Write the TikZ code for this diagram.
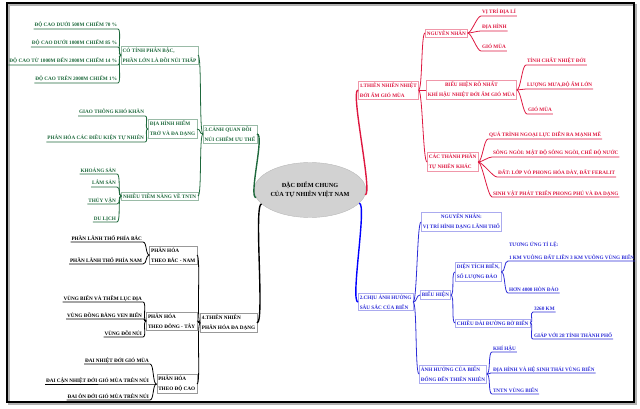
\documentclass[tikz,border=0pt]{standalone}
\usepackage{fontspec}
\setmainfont{Liberation Serif}
\usepackage{tikz}
\usetikzlibrary{shapes.geometric,positioning}
\definecolor{greenb}{RGB}{30,105,60}
\definecolor{redb}{RGB}{222,24,64}
\definecolor{blueb}{RGB}{45,45,215}
\tikzstyle{topic} = [ellipse, draw=gray!55, fill=gray!35, align=center, minimum width=93pt, minimum height=55pt, inner sep=0pt, font={\fontsize{6.2}{8.5}\selectfont\bfseries}]
\tikzstyle{box} = [rectangle, fill=white, align=left, inner sep=1.5pt, line width=0.5pt]
\tikzstyle{gbox} = [box, draw=greenb!45, text=greenb]
\tikzstyle{kbox} = [box, draw=black!40, text=black]
\tikzstyle{rbox} = [box, draw=redb!45, text=redb]
\tikzstyle{ubox} = [box, draw=blueb!40, text=blueb]
\tikzstyle{leaf} = [inner sep=0.8pt, text depth=1pt, align=left]
\tikzstyle{leftlink} = [out=180, in=0, distance=4pt, line width=0.8pt]
\tikzstyle{rightlink} = [out=0, in=180, distance=4pt, line width=0.8pt]
\tikzstyle{leftmain} = [leftlink, distance=8pt, line width=1.4pt]
\tikzstyle{rightmain} = [rightlink, distance=8pt, line width=1.4pt]

\begin{document}
\begin{tikzpicture}[
    x=1pt, y=-1pt,
    font={\fontsize{5.2}{10}\selectfont\bfseries}
  ]
    \useasboundingbox (0,0) rectangle (640,409);
    \draw [gray!60, line width=2pt] (9,5) rectangle (636,404);
    \draw [line width=2pt] (7,3) rectangle (634,402);

    \node [topic] at (310,190) (center)
      {ĐẶC ĐIỂM CHUNG\\CỦA TỰ NHIÊN VIỆT NAM};

    % 3 - canh quan (green)
    \node [gbox, anchor=east] at (257,134) (canhquan) {3.CẢNH QUAN ĐỒI\\NÚI CHIẾM ƯU THẾ};
    \node [gbox, anchor=east] at (198,55) (phanbac) {CÓ TÍNH PHÂN BẬC,\\PHẦN LỚN LÀ ĐỒI NÚI THẤP};
    \node [gbox, anchor=east] at (197,129) (hiemtro) {ĐỊA HÌNH HIỂM\\TRỞ VÀ ĐA DẠNG};
    \node [gbox, anchor=east] at (198,196) (tiemnang) {NHIỀU TIỀM NĂNG VỀ TNTN};
    \node [leaf, text=greenb, anchor=south east] at (118,29) (docao1) {ĐỘ CAO DƯỚI 500M CHIẾM 70 \%};
    \node [leaf, text=greenb, anchor=south east] at (118,47) (docao2) {ĐỘ CAO DƯỚI 1000M CHIẾM 85 \%};
    \node [leaf, text=greenb, anchor=south east] at (118,65) (docao3) {ĐỘ CAO TỪ 1000M ĐẾN 2000M CHIẾM 14 \%};
    \node [leaf, text=greenb, anchor=south east] at (118,83) (docao4) {ĐỘ CAO TRÊN 2000M CHIẾM 1\%};
    \node [leaf, text=greenb, anchor=south east] at (145,116) (giaothong) {GIAO THÔNG KHÓ KHĂN};
    \node [leaf, text=greenb, anchor=south east] at (145,142) (dieukien) {PHÂN HÓA CÁC ĐIỀU KIỆN TỰ NHIÊN};
    \node [leaf, text=greenb, anchor=south east] at (117,174) (khoangsan) {KHOÁNG SẢN};
    \node [leaf, text=greenb, anchor=south east] at (117,187) (lamsan) {LÂM SẢN};
    \node [leaf, text=greenb, anchor=south east] at (117,204) (thuyvan) {THỦY VẬN};
    \node [leaf, text=greenb, anchor=south east] at (117,222) (dulich) {DU LỊCH};

    % 4 - phan hoa (black)
    \node [kbox, anchor=east] at (257,323) (phanhoa) {4.THIÊN NHIÊN\\PHÂN HÓA ĐA DẠNG};
    \node [kbox, anchor=east] at (197,255) (bacnam) {PHÂN HÓA\\THEO BẮC - NAM};
    \node [kbox, anchor=east] at (197,321) (dongtay) {PHÂN HÓA\\THEO ĐÔNG - TÂY};
    \node [kbox, anchor=east] at (197,384) (docao) {PHÂN HÓA\\THEO ĐỘ CAO};
    \node [leaf, anchor=south east] at (143,242) (phiabac) {PHẦN LÃNH THỔ PHÍA BẮC};
    \node [leaf, anchor=south east] at (143,264) (phianam) {PHẦN LÃNH THỔ PHÍA NAM};
    \node [leaf, anchor=south east] at (143,302) (vungbien) {VÙNG BIỂN VÀ THỀM LỤC ĐỊA};
    \node [leaf, anchor=south east] at (143,319) (dongbang) {VÙNG ĐỒNG BẰNG VEN BIỂN};
    \node [leaf, anchor=south east] at (143,337) (doinui) {VÙNG ĐỒI NÚI};
    \node [leaf, anchor=south east] at (150,364) (dainhiet) {ĐAI NHIỆT ĐỚI GIÓ MÙA};
    \node [leaf, anchor=south east] at (150,384) (daican) {ĐAI CẬN NHIỆT ĐỚI GIÓ MÙA TRÊN NÚI};
    \node [leaf, anchor=south east] at (150,400) (daion) {ĐAI ÔN ĐỚI GIÓ MÙA TRÊN NÚI};

    % 1 - nhiet doi am gio mua (red)
    \node [rbox, anchor=west] at (358,90) (nhietdoi) {1.THIÊN NHIÊN NHIỆT\\ĐỚI ẨM GIÓ MÙA};
    \node [rbox, anchor=west] at (425,33) (nguyennhan) {NGUYÊN NHÂN};
    \node [rbox, anchor=west, align=center] at (426,90) (bieuhien) {BIỂU HIỆN RÕ NHẤT\\KHÍ HẬU NHIỆT ĐỚI ẨM GIÓ MÙA};
    \node [rbox, anchor=west] at (427,162) (thanhphan) {CÁC THÀNH PHẦN\\TỰ NHIÊN KHÁC};
    \node [leaf, text=redb, anchor=south west] at (481,16) (vitri) {VỊ TRÍ ĐỊA LÍ};
    \node [leaf, text=redb, anchor=south west] at (481,31) (diahinh) {ĐỊA HÌNH};
    \node [leaf, text=redb, anchor=south west] at (481,51) (giomua) {GIÓ MÙA};
    \node [leaf, text=redb, anchor=south west] at (526,65) (tinhchat) {TÍNH CHẤT NHIỆT ĐỚI};
    \node [leaf, text=redb, anchor=south west] at (526,89) (luongmua) {LƯỢNG MƯA,ĐỘ ẨM LỚN};
    \node [leaf, text=redb, anchor=south west] at (527,114) (giomuab) {GIÓ MÙA};
    \node [leaf, text=redb, anchor=south west] at (488,139) (ngoailuc) {QUÁ TRÌNH NGOẠI LỰC DIỄN RA MẠNH MẼ};
    \node [leaf, text=redb, anchor=south west] at (492,157) (songngoi) {SÔNG NGÒI: MẬT ĐỘ SÔNG NGÒI, CHẾ ĐỘ NƯỚC};
    \node [leaf, text=redb, anchor=south west] at (497,177) (dat) {ĐẤT: LỚP VỎ PHONG HÓA DÀY, ĐẤT FERALIT};
    \node [leaf, text=redb, anchor=south west] at (492,197) (sinhvat) {SINH VẬT PHÁT TRIỂN PHONG PHÚ VÀ ĐA DẠNG};

    % 2 - anh huong cua bien (blue)
    \node [ubox, anchor=west] at (358,302) (bien) {2.CHỊU ẢNH HƯỞNG\\SÂU SẮC CỦA BIỂN};
    \node [ubox, anchor=west, align=center] at (421,222) (nguyennhanb) {NGUYÊN NHÂN:\\VỊ TRÍ HÌNH DẠNG LÃNH THỔ};
    \node [ubox, anchor=west] at (420,295) (bieuhienb) {BIỂU HIỆN};
    \node [ubox, anchor=west] at (419,374) (anhhuong) {ẢNH HƯỞNG CỦA BIỂN\\ĐỐNG ĐẾN THIÊN NHIÊN};
    \node [ubox, anchor=west] at (455,272) (dientich) {DIỆN TÍCH BIỂN,\\SỐ LƯỢNG ĐẢO};
    \node [ubox, anchor=west] at (455,323) (chieudai) {CHIỀU DÀI ĐƯỜNG BỜ BIỂN};
    \node [leaf, text=blueb, anchor=south west] at (508,261) (tile) {TƯƠNG ỨNG TỈ LỆ:\\[3pt]1 KM VUÔNG ĐẤT LIỀN 3 KM VUÔNG VÙNG BIỂN};
    \node [leaf, text=blueb, anchor=south west] at (508,293) (hondao) {HƠN 4000 HÒN ĐẢO};
    \node [leaf, text=blueb, anchor=south west] at (533,312) (km) {3260 KM};
    \node [leaf, text=blueb, anchor=south west] at (533,339) (giap) {GIÁP VỚI 28 TỈNH THÀNH PHỐ};
    \node [leaf, text=blueb, anchor=south west] at (492,352) (khihau) {KHÍ HẬU};
    \node [leaf, text=blueb, anchor=south west] at (492,373) (hesinhthai) {ĐỊA HÌNH VÀ HỆ SINH THÁI VÙNG BIỂN};
    \node [leaf, text=blueb, anchor=south west] at (492,394) (tntn) {TNTN VÙNG BIỂN};

    % main branches
    \path [leftmain, draw=greenb] (center.188) to (canhquan.east);
    \path [leftmain, draw=black] (center.196) to (phanhoa.east);
    \path [rightmain, draw=redb] (center.355) to (nhietdoi.west);
    \path [rightmain, draw=blue] (center.345) to (bien.west);

    % green links
    \path [leftlink, draw=greenb] (canhquan.west) to (phanbac.east);
    \path [leftlink, draw=greenb] (canhquan.west) to (hiemtro.east);
    \path [leftlink, draw=greenb] (canhquan.west) to (tiemnang.east);
    \path [leftlink, draw=greenb] (phanbac.west) to (docao1.south east) -- (docao1.south west);
    \path [leftlink, draw=greenb] (phanbac.west) to (docao2.south east) -- (docao2.south west);
    \path [leftlink, draw=greenb] (phanbac.west) to (docao3.south east) -- (docao3.south west);
    \path [leftlink, draw=greenb] (phanbac.west) to (docao4.south east) -- (docao4.south west);
    \path [leftlink, draw=greenb] (hiemtro.west) to (giaothong.south east) -- (giaothong.south west);
    \path [leftlink, draw=greenb] (hiemtro.west) to (dieukien.south east) -- (dieukien.south west);
    \path [leftlink, draw=greenb] (tiemnang.west) to (khoangsan.south east) -- (khoangsan.south west);
    \path [leftlink, draw=greenb] (tiemnang.west) to (lamsan.south east) -- (lamsan.south west);
    \path [leftlink, draw=greenb] (tiemnang.west) to (thuyvan.south east) -- (thuyvan.south west);
    \path [leftlink, draw=greenb] (tiemnang.west) to (dulich.south east) -- (dulich.south west);

    % black links
    \path [leftlink, draw=black] (phanhoa.west) to (bacnam.east);
    \path [leftlink, draw=black] (phanhoa.west) to (dongtay.east);
    \path [leftlink, draw=black] (phanhoa.west) to (docao.east);
    \path [leftlink, draw=black] (bacnam.west) to (phiabac.south east) -- (phiabac.south west);
    \path [leftlink, draw=black] (bacnam.west) to (phianam.south east) -- (phianam.south west);
    \path [leftlink, draw=black] (dongtay.west) to (vungbien.south east) -- (vungbien.south west);
    \path [leftlink, draw=black] (dongtay.west) to (dongbang.south east) -- (dongbang.south west);
    \path [leftlink, draw=black] (dongtay.west) to (doinui.south east) -- (doinui.south west);
    \path [leftlink, draw=black] (docao.west) to (dainhiet.south east) -- (dainhiet.south west);
    \path [leftlink, draw=black] (docao.west) to (daican.south east) -- (daican.south west);
    \path [leftlink, draw=black] (docao.west) to (daion.south east) -- (daion.south west);

    % red links
    \path [rightlink, draw=redb] (nhietdoi.east) to (nguyennhan.west);
    \path [rightlink, draw=redb] (nhietdoi.east) to (bieuhien.west);
    \path [rightlink, draw=redb] (nhietdoi.east) to (thanhphan.west);
    \path [rightlink, draw=redb] (nguyennhan.east) to (vitri.south west) -- (vitri.south east);
    \path [rightlink, draw=redb] (nguyennhan.east) to (diahinh.south west) -- (diahinh.south east);
    \path [rightlink, draw=redb] (nguyennhan.east) to (giomua.south west) -- (giomua.south east);
    \path [rightlink, draw=redb] (bieuhien.east) to (tinhchat.south west) -- (tinhchat.south east);
    \path [rightlink, draw=redb] (bieuhien.east) to (luongmua.south west) -- (luongmua.south east);
    \path [rightlink, draw=redb] (bieuhien.east) to (giomuab.south west) -- (giomuab.south east);
    \path [rightlink, draw=redb] (thanhphan.east) to (ngoailuc.south west) -- (ngoailuc.south east);
    \path [rightlink, draw=redb] (thanhphan.east) to (songngoi.south west) -- (songngoi.south east);
    \path [rightlink, draw=redb] (thanhphan.east) to (dat.south west) -- (dat.south east);
    \path [rightlink, draw=redb] (thanhphan.east) to (sinhvat.south west) -- (sinhvat.south east);

    % blue links
    \path [rightlink, draw=blueb] (bien.east) to (nguyennhanb.west);
    \path [rightlink, draw=blueb] (bien.east) to (bieuhienb.west);
    \path [rightlink, draw=blueb] (bien.east) to (anhhuong.west);
    \path [rightlink, draw=blueb] (bieuhienb.east) to (dientich.west);
    \path [rightlink, draw=blueb] (bieuhienb.east) to (chieudai.west);
    \path [rightlink, draw=blueb] (dientich.east) to (tile.south west) -- (tile.south east);
    \path [rightlink, draw=blueb] (dientich.east) to (hondao.south west) -- (hondao.south east);
    \path [rightlink, draw=blueb] (chieudai.east) to (km.south west) -- (km.south east);
    \path [rightlink, draw=blueb] (chieudai.east) to (giap.south west) -- (giap.south east);
    \path [rightlink, draw=blueb] (anhhuong.east) to (khihau.south west) -- (khihau.south east);
    \path [rightlink, draw=blueb] (anhhuong.east) to (hesinhthai.south west) -- (hesinhthai.south east);
    \path [rightlink, draw=blueb] (anhhuong.east) to (tntn.south west) -- (tntn.south east);
  \end{tikzpicture}
\end{document}
